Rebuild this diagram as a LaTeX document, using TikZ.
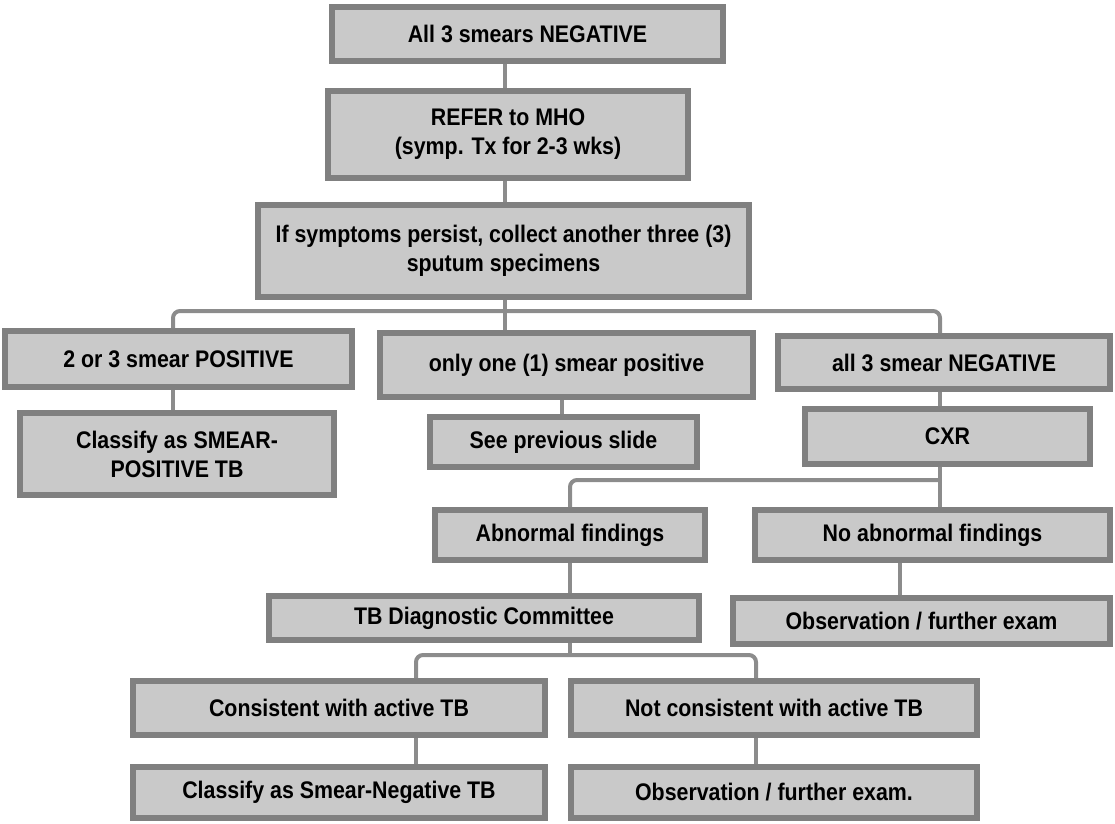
\documentclass[tikz,border=0pt]{standalone}
\usepackage{fontspec}
\setmainfont{Liberation Sans}[FakeStretch=0.89]
\usepackage{tikz}
\usetikzlibrary{positioning}

\begin{document}
\begin{tikzpicture}[x=1pt, y=-1pt,
    box/.style={draw=black!50, fill=black!21, line width=6pt, inner sep=0pt, align=center,
        font=\bfseries\fontsize{24}{29}\selectfont},
    link/.style={draw=black!45, line width=4pt, rounded corners=7pt}]
    \useasboundingbox (0,0) rectangle (1115,823);
    \node[box, minimum width=391pt, minimum height=54pt] (neg) at (527.5,34) {All 3 smears NEGATIVE};
    \node[box, minimum width=360pt, minimum height=87pt] (refer) at (508,134.5) {REFER to MHO\\(symp. Tx for 2-3 wks)};
    \node[box, minimum width=491pt, minimum height=92pt] (persist) at (503.5,251) {If symptoms persist, collect another three (3)\\sputum specimens};
    \node[box, minimum width=347pt, minimum height=56pt] (pos) at (178.5,359) {2 or 3 smear POSITIVE};
    \node[box, minimum width=373pt, minimum height=64pt] (one) at (566.5,365) {only one (1) smear positive};
    \node[box, minimum width=332pt, minimum height=53pt] (allneg) at (944,362.5) {all 3 smear NEGATIVE};
    \node[box, minimum width=314pt, minimum height=82pt] (classpos) at (177,454) {Classify as SMEAR-\\POSITIVE TB};
    \node[box, minimum width=267pt, minimum height=50pt] (prev) at (563.5,442) {See previous slide};
    \node[box, minimum width=285pt, minimum height=55pt] (cxr) at (947.5,436.5) {CXR};
    \node[box, minimum width=270pt, minimum height=50pt] (abn) at (570,535) {Abnormal findings};
    \node[box, minimum width=355pt, minimum height=50pt] (noabn) at (932.5,535) {No abnormal findings};
    \node[box, minimum width=430pt, minimum height=44pt] (tbdc) at (484,618) {TB Diagnostic Committee};
    \node[box, minimum width=377pt, minimum height=46pt] (obsa) at (921.5,621) {Observation / further exam};
    \node[box, minimum width=412pt, minimum height=54pt] (cons) at (339,708) {Consistent with active TB};
    \node[box, minimum width=406pt, minimum height=54pt] (notcons) at (774,708) {Not consistent with active TB};
    \node[box, minimum width=412pt, minimum height=51pt] (classneg) at (339,792.5) {Classify as Smear-Negative TB};
    \node[box, minimum width=406pt, minimum height=51pt] (obsb) at (774,792.5) {Observation / further exam.};
    \coordinate (spine) at (505,311);
    \coordinate (posx) at (173,0);
    \coordinate (prevx) at (562,0);
    \coordinate (cxrx) at (940,0);
    \coordinate (cxrsplit) at (940,480);
    \coordinate (abnx) at (570,0);
    \coordinate (obsx) at (900,0);
    \coordinate (tbsplit) at (570,655);
    \coordinate (consx) at (416,0);
    \coordinate (notx) at (756,0);
    \draw[link] (neg.south -| spine) -- (refer.north -| spine);
    \draw[link] (refer.south -| spine) -- (persist.north -| spine);
    \draw[link] (persist.south -| spine) -- (one.north -| spine);
    \draw[link] (pos.north -| posx) |- (spine) -| (allneg.north -| cxrx);
    \draw[link] (pos.south -| posx) -- (classpos.north -| posx);
    \draw[link] (one.south -| prevx) -- (prev.north -| prevx);
    \draw[link] (allneg.south -| cxrx) -- (cxr.north -| cxrx);
    \draw[link] (cxr.south -| cxrx) -- (noabn.north -| cxrx);
    \draw[link] (abn.north -| abnx) |- (cxrsplit);
    \draw[link] (abn.south -| abnx) -- (tbdc.north -| abnx);
    \draw[link] (noabn.south -| obsx) -- (obsa.north -| obsx);
    \draw[link] (tbdc.south -| abnx) -- (tbsplit);
    \draw[link] (cons.north -| consx) |- (tbsplit) -| (notcons.north -| notx);
    \draw[link] (cons.south -| consx) -- (classneg.north -| consx);
    \draw[link] (notcons.south -| notx) -- (obsb.north -| notx);
\end{tikzpicture}
\end{document}
